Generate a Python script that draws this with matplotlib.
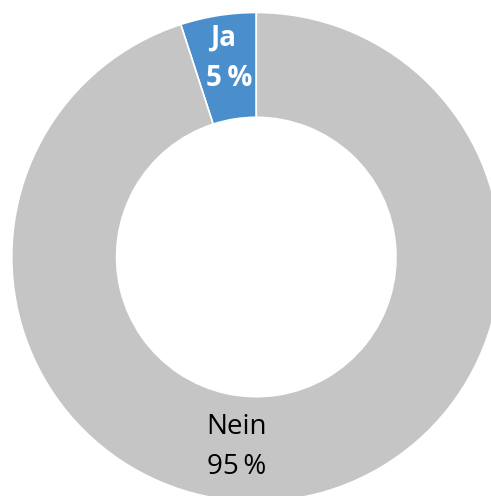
import matplotlib
matplotlib.use("Agg")
import matplotlib.pyplot as plt

categories = ["Ja", "Nein"]
values = [5, 95]
colors = ["#4a8fcc", "#c5c5c5"]

W, H = 491, 496
fig = plt.figure(figsize=(W / 100, H / 100), dpi=100)
ax = fig.add_axes([0, 0, 1, 1])

cx, cy = 256.3, H - 257.0
R_out, R_in = 244.5, 139.7

ax.pie(values, colors=colors, startangle=90, counterclock=True,
       radius=R_out, center=(cx, cy), frame=True,
       wedgeprops=dict(width=R_out - R_in, edgecolor="white", linewidth=1.2))
ax.set_xlim(0, W)
ax.set_ylim(0, H)
ax.set_aspect("equal")
ax.axis("off")

font = "Open Sans"
fs = 20
ax.text(223, H - 38, categories[0], ha="center", va="center", fontsize=fs,
        fontweight="bold", color="white", family=font)
ax.text(229, H - 79, f"{values[0]}\u2009%", ha="center", va="center", fontsize=fs,
        fontweight="bold", color="white", family=font)
ax.text(236.5, H - 427, categories[1], ha="center", va="center", fontsize=fs,
        color="black", family=font)
ax.text(236.5, H - 467, f"{values[1]}\u2009%", ha="center", va="center", fontsize=fs,
        color="black", family=font)

fig.savefig("out.png", dpi=100)
